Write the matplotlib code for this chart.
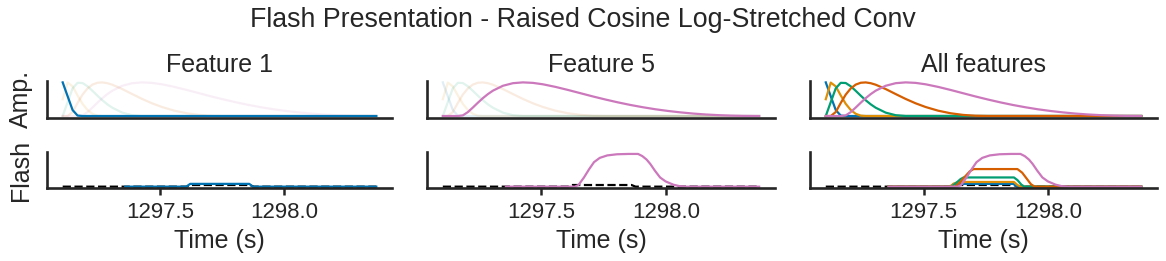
import matplotlib
matplotlib.use("Agg")
import matplotlib.pyplot as plt

plt.rcParams['font.family'] = ['Liberation Sans', 'DejaVu Sans']
plt.rcParams['text.color'] = '#262626'
plt.rcParams['axes.labelcolor'] = '#262626'
plt.rcParams['xtick.color'] = '#262626'
plt.rcParams['ytick.color'] = '#262626'

# ---------------- data ----------------
colors = ['#0173b2', '#de8f05', '#029e73', '#d55e00', '#cc78bc']

basis_time = [1297.108, 1297.128, 1297.148, 1297.168, 1297.188, 1297.208, 1297.228,
              1297.248, 1297.268, 1297.288, 1297.308, 1297.348, 1297.388, 1297.428,
              1297.468, 1297.508, 1297.558, 1297.608, 1297.658, 1297.708, 1297.758,
              1297.808, 1297.858, 1297.908, 1297.958, 1298.008, 1298.058, 1298.108,
              1298.158, 1298.208, 1298.258, 1298.308, 1298.372]

basis_1 = [1.0, 0.586, 0.177, 0.013, 0.0, 0.0, 0.0, 0.0, 0.0, 0.0, 0.0, 0.0, 0.0, 0.0,
           0.0, 0.0, 0.0, 0.0, 0.0, 0.0, 0.0, 0.0, 0.0, 0.0, 0.0, 0.0, 0.0, 0.0, 0.0,
           0.0, 0.0, 0.0, 0.0]
basis_2 = [0.5, 0.993, 0.881, 0.612, 0.362, 0.180, 0.066, 0.011, 0.0, 0.0, 0.0, 0.0,
           0.0, 0.0, 0.0, 0.0, 0.0, 0.0, 0.0, 0.0, 0.0, 0.0, 0.0, 0.0, 0.0, 0.0, 0.0,
           0.0, 0.0, 0.0, 0.0, 0.0, 0.0]
basis_3 = [0.0, 0.414, 0.823, 0.987, 0.981, 0.884, 0.749, 0.605, 0.469, 0.348, 0.247,
           0.101, 0.024, 0.0, 0.0, 0.0, 0.0, 0.0, 0.0, 0.0, 0.0, 0.0, 0.0, 0.0, 0.0,
           0.0, 0.0, 0.0, 0.0, 0.0, 0.0, 0.0, 0.0]
basis_4 = [0.0, 0.0, 0.119, 0.388, 0.637, 0.820, 0.934, 0.989, 0.999, 0.976, 0.931,
           0.802, 0.653, 0.508, 0.378, 0.268, 0.159, 0.082, 0.033, 0.007, 0.0, 0.0,
           0.0, 0.0, 0.0, 0.0, 0.0, 0.0, 0.0, 0.0, 0.0, 0.0, 0.0]
basis_5 = [0.0, 0.0, 0.0, 0.0, 0.019, 0.116, 0.252, 0.395, 0.531, 0.651, 0.753, 0.899,
           0.976, 1.0, 0.985, 0.943, 0.866, 0.775, 0.678, 0.581, 0.490, 0.405, 0.328,
           0.260, 0.200, 0.150, 0.108, 0.073, 0.046, 0.026, 0.012, 0.004, 0.0]

flash_time = [1297.108, 1297.608, 1297.626, 1297.862, 1297.878, 1298.372]
flash_value = [0.0, 0.0, 1.0, 1.0, 0.0, 0.0]

conv1_time = [1297.36, 1297.606, 1297.622, 1297.860, 1297.874, 1298.372]
conv1_value = [0.0, 0.0, 1.7, 1.7, 0.0, 0.0]

conv2_time = [1297.36, 1297.606, 1297.620, 1297.638, 1297.862, 1297.876, 1297.890, 1298.372]
conv2_value = [0.0, 0.0, 1.8, 2.85, 2.85, 1.0, 0.0, 0.0]

conv3_time = [1297.36, 1297.612, 1297.630, 1297.648, 1297.660, 1297.862, 1297.876,
              1297.892, 1297.904, 1298.372]
conv3_value = [0.0, 0.0, 2.2, 4.6, 5.6, 5.6, 4.0, 1.2, 0.0, 0.0]

conv4_time = [1297.36, 1297.626, 1297.645, 1297.665, 1297.685, 1297.700, 1297.876,
              1297.895, 1297.915, 1297.930, 1297.945, 1298.372]
conv4_value = [0.0, 0.0, 2.5, 6.0, 9.3, 10.7, 10.7, 8.5, 4.5, 1.5, 0.0, 0.0]

conv5_time = [1297.36, 1297.636, 1297.650, 1297.672, 1297.692, 1297.712, 1297.735,
              1297.765, 1297.804, 1297.850, 1297.888, 1297.905, 1297.922, 1297.937,
              1297.955, 1297.976, 1297.998, 1298.029, 1298.054, 1298.080, 1298.372]
conv5_value = [0.0, 0.0, 1.0, 5.6, 10.5, 14.9, 17.5, 19.0, 19.7, 19.9, 19.9, 18.6,
               16.5, 13.8, 9.8, 5.6, 3.2, 1.2, 0.3, 0.0, 0.0]

panel_titles = ['Feature 1', 'Feature 5', 'All features']
xtick_values = [1297.5, 1298.0]
xtick_labels = ['1297.5', '1298.0']

basis_all = [basis_1, basis_2, basis_3, basis_4, basis_5]
conv_all = [(conv1_time, conv1_value), (conv2_time, conv2_value),
            (conv3_time, conv3_value), (conv4_time, conv4_value),
            (conv5_time, conv5_value)]

# ---------------- figure ----------------
W, H = 1166, 261
fig = plt.figure(figsize=(W / 100, H / 100), dpi=100)

lefts = [47, 427, 810]
widths = [345, 348, 347]
top_row = (80.7, 117.7)
bot_row = (152.3, 188.3)

def px_axes(left, width, top, bottom, **kw):
    return fig.add_axes([left / W, 1 - bottom / H, width / W, (bottom - top) / H], **kw)

lw = 1.6
axes_top, axes_bot = [], []
for i in range(3):
    at = px_axes(lefts[i], widths[i], *top_row,
                 sharey=axes_top[0] if axes_top else None)
    ab = px_axes(lefts[i], widths[i], *bot_row, sharex=at,
                 sharey=axes_bot[0] if axes_bot else None)
    axes_top.append(at)
    axes_bot.append(ab)

highlight = [[0], [4], [0, 1, 2, 3, 4]]
for i in range(3):
    at, ab = axes_top[i], axes_bot[i]
    for k in range(5):
        if k not in highlight[i]:
            at.plot(basis_time, basis_all[k], color=colors[k], lw=lw, alpha=0.12)
    for k in highlight[i]:
        at.plot(basis_time, basis_all[k], color=colors[k], lw=lw)
    ab.plot(flash_time, flash_value, color='black', ls='--', lw=lw)
    for k in highlight[i]:
        ab.plot(conv_all[k][0], conv_all[k][1], color=colors[k], lw=lw)

    at.set_title(panel_titles[i], fontsize=18, color='#262626')
    for ax in (at, ab):
        ax.spines['top'].set_visible(False)
        ax.spines['right'].set_visible(False)
        for s in ('left', 'bottom'):
            ax.spines[s].set_linewidth(1.9)
            ax.spines[s].set_color('#262626')
        ax.set_yticks([])
    at.tick_params(axis='x', bottom=False, labelbottom=False)
    ab.set_xticks(xtick_values)
    ab.set_xticklabels(xtick_labels)
    ab.tick_params(axis='x', length=5, width=1.8, labelsize=16, pad=5)
    ab.set_xlabel('Time (s)', fontsize=18)

axes_top[0].set_ylabel('Amp.', fontsize=18)
axes_bot[0].set_ylabel('Flash', fontsize=18)
axes_top[0].yaxis.set_label_coords(-0.041, 0.5)
axes_bot[0].yaxis.set_label_coords(-0.041, 0.5)

fig.suptitle('Flash Presentation - Raised Cosine Log-Stretched Conv',
             fontsize=19.3, y=1 - 20 / H, va='center', color='#262626')

fig.savefig('out.png', dpi=100)
